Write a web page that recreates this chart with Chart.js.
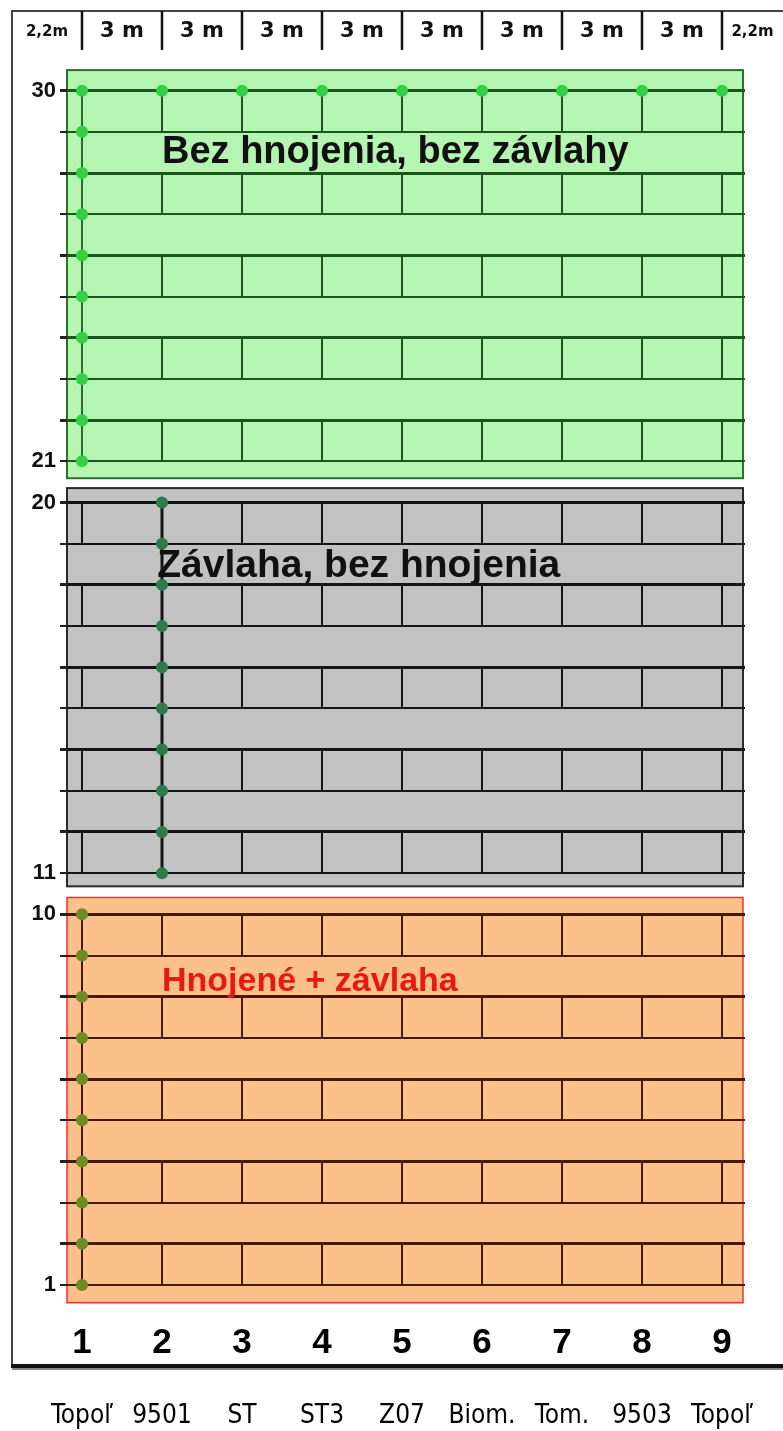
<!DOCTYPE html>
<html>
<head>
<meta charset="utf-8">
<script src="https://cdn.jsdelivr.net/npm/chart.js@4/dist/chart.umd.min.js"></script>
<style>
  html, body { margin: 0; padding: 0; background: #fff; }
  #wrap { position: relative; width: 783px; height: 1431px; }
</style>
</head>
<body>
<div id="wrap"><canvas id="plan" width="783" height="1431"></canvas></div>
<script>
// field plan: 9 columns (cultivars) x 30 rows in three treatment blocks
const columns = [1, 2, 3, 4, 5, 6, 7, 8, 9];
const cultivars = ['Topoľ', '9501', 'ST', 'ST3', 'Z07', 'Biom.', 'Tom.', '9503', 'Topoľ'];
const spacingLabels = ['2,2m', '3 m', '3 m', '3 m', '3 m', '3 m', '3 m', '3 m', '3 m', '2,2m'];
const rows = [1, 2, 3, 4, 5, 6, 7, 8, 9, 10, 11, 12, 13, 14, 15, 16, 17, 18, 19, 20,
              21, 22, 23, 24, 25, 26, 27, 28, 29, 30];
const rowLabels = [1, 10, 11, 20, 21, 30];

const sectionTitles = ['Bez hnojenia, bez závlahy', 'Závlaha, bez hnojenia', 'Hnojené + závlaha'];
const sectionTopRow = [30, 20, 10];
const sectionBottomRow = [21, 11, 1];

// marked plants (points) in each block
const greenRows = [30, 29, 28, 27, 26, 25, 24, 23, 22, 21];
const grayRows = [20, 19, 18, 17, 16, 15, 14, 13, 12, 11];
const orangeRows = [10, 9, 8, 7, 6, 5, 4, 3, 2, 1];
const seriesColumn = [1, 2, 1];
const row30Columns = [2, 3, 4, 5, 6, 7, 8, 9];

// plot (brick) pairs of rows and the columns that get a divider
const brickRows = [[30, 29], [28, 27], [26, 25], [24, 23], [22, 21],
                   [20, 19], [18, 17], [16, 15], [14, 13], [12, 11],
                   [10, 9], [8, 7], [6, 5], [4, 3], [2, 1]];
const brickColumns = [[2, 3, 4, 5, 6, 7, 8, 9], [1, 3, 4, 5, 6, 7, 8, 9], [2, 3, 4, 5, 6, 7, 8, 9]];

// styles
const fills = ['#b3f5b1', '#c2c2c2', '#fcc08b'];
const borders = ['#2e6e2e', '#2a2a2a', '#f23030'];
const lineColors = ['#1d531d', '#151515', '#4a1700'];
const pointColors = ['#35cf45', '#2f7a4a', '#6c8c24'];
const seriesLine = ['#2a6a2a', '#151515', '#4a1700'];
const titleColors = ['#111', '#111', '#e81818'];
const titleFonts = ['bold 38px "Liberation Sans", Arial', 'bold 39px "Liberation Sans", Arial', 'bold 34px "Liberation Sans", Arial'];
const titleAt = [[2, 28.24], [1.94, 18.18], [2, 8.15]];
const boxPadTop = [0.5, 0.35, 0.41];
const boxPadBottom = [0.41, 0.32, 0.43];

const sectionOf = r => sectionBottomRow.findIndex(b => r >= b);

function brickData(s) {
  const out = [];
  brickRows.filter(p => sectionOf(p[1]) === s).forEach(p => {
    brickColumns[s].forEach(c => {
      out.push({ x: c, y: p[0] }, { x: c, y: p[1] }, { x: c, y: null });
    });
  });
  return out;
}

const blockRows = [greenRows, grayRows, orangeRows];
const datasets = [];
blockRows.forEach((rs, s) => {
  datasets.push({
    data: rs.map(r => ({ x: seriesColumn[s], y: r })),
    borderColor: seriesLine[s],
    borderWidth: s === 1 ? 3 : 2,
    pointRadius: 6,
    pointBackgroundColor: pointColors[s],
    pointBorderColor: pointColors[s],
    pointBorderWidth: 0,
    order: 1
  });
  datasets.push({
    data: brickData(s),
    borderColor: lineColors[s],
    borderWidth: 2,
    pointRadius: 0,
    spanGaps: false,
    order: 5
  });
});
datasets.push({
  data: row30Columns.map(c => ({ x: c, y: 30 })),
  showLine: false,
  pointRadius: 6,
  pointBackgroundColor: pointColors[0],
  pointBorderWidth: 0,
  order: 0
});

const planDecor = {
  id: 'planDecor',
  beforeDraw(chart) {
    const { ctx, chartArea: a, scales: { x, y } } = chart;
    ctx.save();
    // outer frame
    ctx.strokeStyle = '#444';
    ctx.lineWidth = 2;
    ctx.beginPath();
    ctx.moveTo(12, 1366); ctx.lineTo(12, 11); ctx.lineTo(chart.width, 11);
    ctx.stroke();
    ctx.strokeStyle = '#888';
    ctx.lineWidth = 2;
    ctx.beginPath(); ctx.moveTo(12, 1369); ctx.lineTo(chart.width, 1369); ctx.stroke();
    ctx.strokeStyle = '#111';
    ctx.lineWidth = 4;
    ctx.beginPath(); ctx.moveTo(11, 1366); ctx.lineTo(chart.width, 1366); ctx.stroke();

    // header: spacing between columns
    ctx.strokeStyle = '#111';
    ctx.lineWidth = 2.5;
    columns.forEach(c => {
      const px = x.getPixelForValue(c);
      ctx.beginPath(); ctx.moveTo(px, 11); ctx.lineTo(px, 50); ctx.stroke();
    });
    const edges = [12, ...columns.map(c => x.getPixelForValue(c)), chart.width];
    ctx.fillStyle = '#111';
    ctx.textAlign = 'center';
    ctx.textBaseline = 'middle';
    spacingLabels.forEach((t, i) => {
      const edge = i === 0 || i === spacingLabels.length - 1;
      ctx.font = edge ? 'bold 15px "DejaVu Sans"' : 'bold 21px "DejaVu Sans"';
      ctx.fillText(t, (edges[i] + edges[i + 1]) / 2, 32);
    });

    // treatment blocks
    sectionTopRow.forEach((top, i) => {
      const y0 = y.getPixelForValue(top + boxPadTop[i]);
      const y1 = y.getPixelForValue(sectionBottomRow[i] - boxPadBottom[i]);
      ctx.fillStyle = fills[i];
      ctx.fillRect(a.left, y0, a.right - 2 - a.left, y1 - y0);
      ctx.strokeStyle = borders[i];
      ctx.lineWidth = i === 2 ? 1.5 : 2;
      ctx.strokeRect(a.left, y0, a.right - 2 - a.left, y1 - y0);
    });
    ctx.restore();
  },
  afterDatasetsDraw(chart) {
    const { ctx, scales: { x, y } } = chart;
    ctx.save();
    ctx.textAlign = 'left';
    ctx.textBaseline = 'alphabetic';
    sectionTitles.forEach((t, i) => {
      ctx.font = titleFonts[i];
      ctx.fillStyle = titleColors[i];
      ctx.fillText(t, x.getPixelForValue(titleAt[i][0]), y.getPixelForValue(titleAt[i][1]));
    });
    ctx.restore();
  }
};

const xMin = 0.8125, xMax = 9.2875;

new Chart(document.getElementById('plan'), {
  type: 'line',
  data: { datasets },
  options: {
    responsive: false,
    animation: false,
    devicePixelRatio: 1,
    layout: { padding: { left: 0, right: 38, top: 60, bottom: 0 } },
    plugins: { legend: { display: false }, tooltip: { enabled: false } },
    scales: {
      x: {
        type: 'linear', min: xMin, max: xMax, position: 'bottom', weight: 0,
        afterBuildTicks: s => { s.ticks = columns.map(v => ({ value: v })); },
        afterFit: s => { s.height = 62; s.paddingLeft = 0; s.paddingRight = 0; },
        grid: { display: false },
        border: { display: false },
        ticks: {
          padding: 9, autoSkip: false, maxRotation: 0, color: '#000',
          font: { family: '"Liberation Sans", Arial', weight: 'bold', size: 35 },
          callback: v => String(v)
        }
      },
      names: {
        type: 'linear', min: xMin, max: xMax, position: 'bottom', weight: 1,
        afterBuildTicks: s => { s.ticks = columns.map(v => ({ value: v })); },
        afterFit: s => { s.height = 64; s.paddingLeft = 0; s.paddingRight = 0; },
        grid: { display: false },
        border: { display: false },
        ticks: {
          padding: 26, autoSkip: false, maxRotation: 0, color: '#000',
          font: { family: '"Liberation Sans Narrow", "DejaVu Sans Condensed", Arial', size: 26 },
          callback: v => cultivars[columns.indexOf(v)]
        }
      },
      y: {
        type: 'linear', min: 0.514, max: 30.745,
        afterBuildTicks: s => { s.ticks = rows.map(v => ({ value: v })); },
        afterFit: s => { s.width = 67; },
        border: { display: false },
        grid: {
          tickLength: 7,
          color: c => c.tick ? lineColors[sectionOf(c.tick.value)] : 'rgba(0,0,0,0)',
          tickColor: '#222',
          lineWidth: c => {
            if (!c.tick) return 0;
            const s = sectionOf(c.tick.value);
            return (sectionTopRow[s] - c.tick.value) % 2 === 0 ? 3 : 2;
          }
        },
        ticks: {
          padding: 4, autoSkip: false, color: '#111',
          font: { family: '"Liberation Sans", Arial', weight: 'bold', size: 22 },
          callback: v => rowLabels.includes(v) ? String(v) : ''
        }
      }
    }
  },
  plugins: [planDecor]
});
</script>
</body>
</html>
